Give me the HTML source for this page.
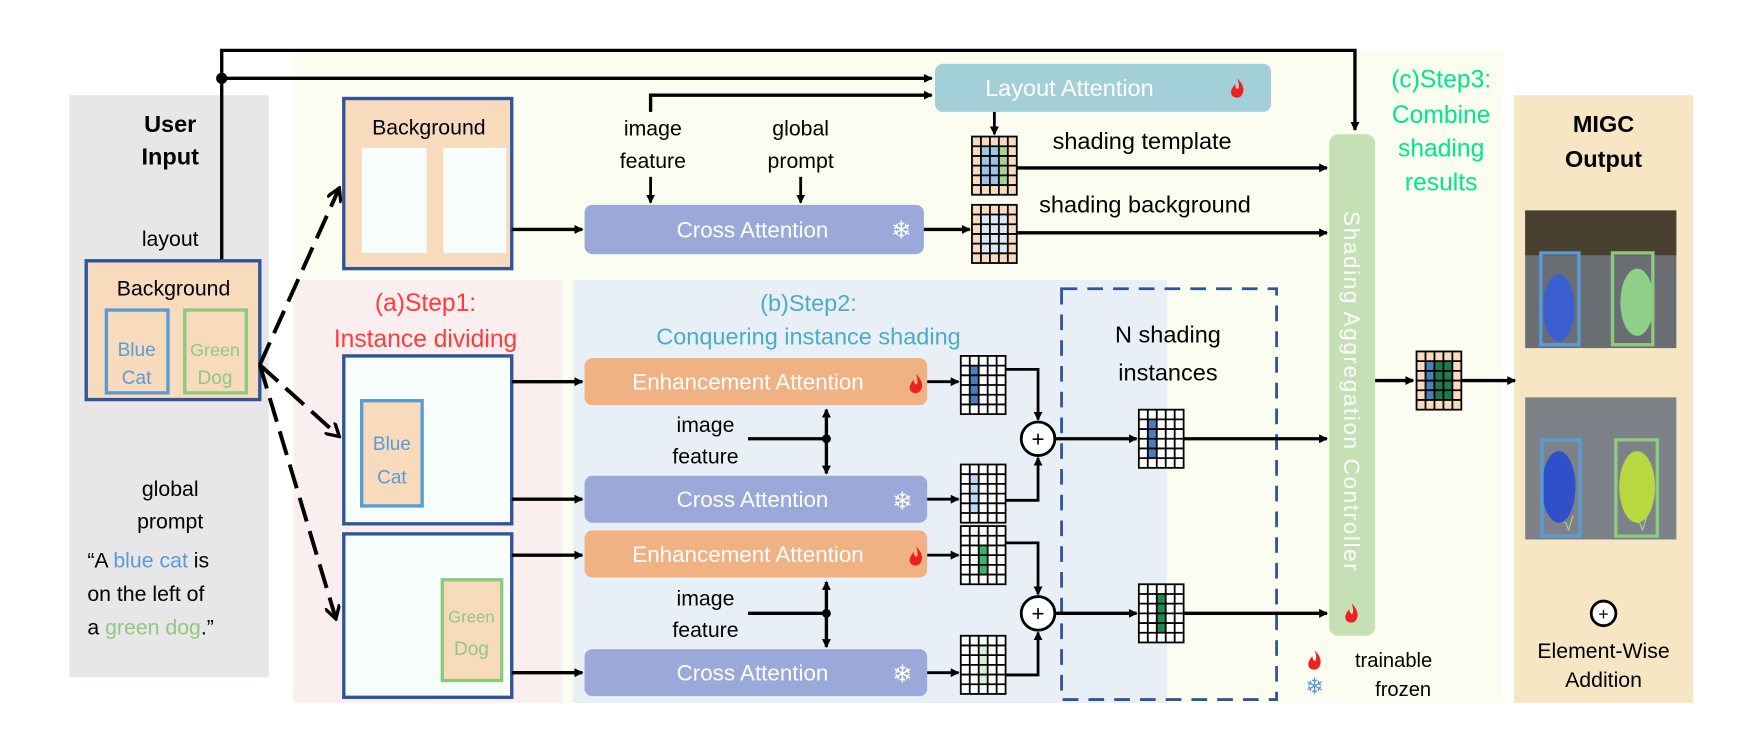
<!DOCTYPE html>
<html><head><meta charset="utf-8"><style>
html,body{margin:0;padding:0;background:#fff;}
svg{display:block;}
text{font-family:"Liberation Sans","DejaVu Sans",sans-serif;}
</style></head><body>
<svg width="1748" height="732" viewBox="0 0 1561 654" preserveAspectRatio="none" xmlns="http://www.w3.org/2000/svg">
<defs>
<marker id="ar" markerWidth="8" markerHeight="8" refX="7" refY="4" orient="auto" markerUnits="userSpaceOnUse"><path d="M0,0 L8,4 L0,8 z" fill="#000"/></marker>
<marker id="ar2" markerWidth="14" markerHeight="14" refX="12" refY="7" orient="auto" markerUnits="userSpaceOnUse"><path d="M0,0 L12,7 L0,14" fill="none" stroke="#000" stroke-width="3"/></marker>
<g id="gl" fill="none" stroke="#000" stroke-width="1.6">
<rect x="0" y="0" width="40" height="52"/>
<path d="M8,0V52M16,0V52M24,0V52M32,0V52M0,8.67H40M0,17.33H40M0,26H40M0,34.67H40M0,43.33H40"/>
</g>
<g id="flame"><path d="M0,-9 C5,-4 7,1 4,6 C2,9 -3,9 -5,6 C-7,2 -4,-1 -2,-4 C-2,0 0,1 1,0 C2,-3 1,-6 0,-9z" fill="#f02020"/></g>
</defs>

<rect x="262" y="45" width="1080" height="583" fill="#fafdf0"/>
<rect x="62" y="85" width="178" height="520" fill="#e8e6e8"/>
<rect x="262" y="250" width="240" height="378" fill="#fbeeee"/>
<rect x="512" y="250" width="530" height="378" fill="#e9eff6"/>
<rect x="1352" y="85" width="160" height="543" fill="#f7e6c4"/>

<polyline points="198,233 198,45 1210,45 1210,116" fill="none" stroke="#000" stroke-width="3" marker-end="url(#ar)"/>
<line x1="198" y1="70" x2="832" y2="70" stroke="#000" stroke-width="3" marker-end="url(#ar)"/>
<circle cx="198" cy="70" r="5" fill="#000"/>
<polyline points="581,100 581,85 832,85" fill="none" stroke="#000" stroke-width="3" marker-end="url(#ar)"/>

<text x="152" y="118" font-size="21" font-weight="bold" text-anchor="middle">User</text>
<text x="152" y="147" font-size="21" font-weight="bold" text-anchor="middle">Input</text>
<text x="152" y="220" font-size="19" text-anchor="middle">layout</text>
<rect x="77" y="233" width="155" height="124" fill="#f8dbbd" stroke="#2f5597" stroke-width="3"/>
<text x="155" y="264" font-size="19" text-anchor="middle">Background</text>
<rect x="95" y="277" width="55" height="74" fill="#f8dbbd" stroke="#5b9bd5" stroke-width="3"/>
<text x="122" y="318" font-size="17" fill="#5b9bd5" text-anchor="middle">Blue</text>
<text x="122" y="343" font-size="17" fill="#5b9bd5" text-anchor="middle">Cat</text>
<rect x="165" y="277" width="55" height="74" fill="#f8dbbd" stroke="#8fc97e" stroke-width="3"/>
<text x="192" y="318" font-size="16" fill="#8fc97e" text-anchor="middle">Green</text>
<text x="192" y="343" font-size="17" fill="#8fc97e" text-anchor="middle">Dog</text>
<text x="152" y="443" font-size="19" text-anchor="middle">global</text>
<text x="152" y="472" font-size="19" text-anchor="middle">prompt</text>
<text x="78" y="507" font-size="19">“A <tspan fill="#5b9bd5">blue cat</tspan> is</text>
<text x="78" y="537" font-size="19">on the left of</text>
<text x="78" y="567" font-size="19">a <tspan fill="#8fc97e">green dog</tspan>.”</text>

<g stroke="#000" stroke-width="3.5" stroke-dasharray="22,9" fill="none" marker-end="url(#ar2)">
<line x1="232" y1="326" x2="303" y2="168"/>
<line x1="232" y1="326" x2="303" y2="390"/>
<line x1="232" y1="326" x2="300" y2="553"/>
</g>

<text x="380" y="278" font-size="22" fill="#ff3b3b" text-anchor="middle">(a)Step1:</text>
<text x="380" y="310" font-size="22" fill="#ff3b3b" text-anchor="middle">Instance dividing</text>
<text x="722" y="278" font-size="21" fill="#4bacc6" text-anchor="middle">(b)Step2:</text>
<text x="722" y="308" font-size="21" fill="#4bacc6" text-anchor="middle">Conquering instance shading</text>
<g font-size="22" fill="#00e68c" text-anchor="middle">
<text x="1287" y="78">(c)Step3:</text>
<text x="1287" y="110">Combine</text>
<text x="1287" y="140">shading</text>
<text x="1287" y="170">results</text>
</g>

<rect x="307" y="88" width="150" height="152" fill="#f8dbbd" stroke="#2f5597" stroke-width="3"/>
<text x="383" y="120" font-size="19" text-anchor="middle">Background</text>
<rect x="323" y="132" width="58" height="94" fill="#f7fdfd"/>
<rect x="396" y="132" width="56" height="94" fill="#f7fdfd"/>
<line x1="457" y1="205" x2="520" y2="205" stroke="#000" stroke-width="3" marker-end="url(#ar)"/>
<text x="583" y="121" font-size="19" text-anchor="middle">image</text>
<text x="583" y="150" font-size="19" text-anchor="middle">feature</text>
<text x="715" y="121" font-size="19" text-anchor="middle">global</text>
<text x="715" y="150" font-size="19" text-anchor="middle">prompt</text>
<line x1="581" y1="158" x2="581" y2="181" stroke="#000" stroke-width="2.5" marker-end="url(#ar)"/>
<line x1="715" y1="158" x2="715" y2="181" stroke="#000" stroke-width="2.5" marker-end="url(#ar)"/>
<rect x="522" y="183" width="303" height="44" rx="7" fill="#9aa9d9"/>
<text x="672" y="212" font-size="20" fill="#fff" text-anchor="middle">Cross Attention</text>
<text x="805" y="213" font-size="22" fill="#fff" text-anchor="middle">❄</text>

<rect x="835" y="57" width="300" height="43" rx="7" fill="#a3cfd9"/>
<text x="955" y="86" font-size="21" fill="#fff" text-anchor="middle">Layout Attention</text>
<use href="#flame" x="1105" y="79"/>
<line x1="888" y1="100" x2="888" y2="120" stroke="#000" stroke-width="2.5" marker-end="url(#ar)"/>
<line x1="825" y1="205" x2="866" y2="205" stroke="#000" stroke-width="3" marker-end="url(#ar)"/>

<g transform="translate(868,122)">
<rect width="40" height="52" fill="#f8dbbd"/>
<rect x="8" y="8.67" width="16" height="34.67" fill="#9dc3e6"/>
<rect x="24" y="8.67" width="8" height="34.67" fill="#a9d18e"/>
<use href="#gl"/></g>
<g transform="translate(868,183)">
<rect width="40" height="52" fill="#f8dbbd"/>
<rect x="8" y="8.67" width="24" height="34.67" fill="#dae8f5"/>
<use href="#gl"/></g>
<text x="940" y="133" font-size="21">shading template</text>
<text x="928" y="190" font-size="21">shading background</text>
<line x1="908" y1="150" x2="1185" y2="150" stroke="#000" stroke-width="3" marker-end="url(#ar)"/>
<line x1="908" y1="208" x2="1185" y2="208" stroke="#000" stroke-width="3" marker-end="url(#ar)"/>

<rect x="307" y="318" width="150" height="150" fill="#f7fdfd" stroke="#2f5597" stroke-width="3"/>
<rect x="323" y="358" width="54" height="94" fill="#f8dbbd" stroke="#5b9bd5" stroke-width="3"/>
<text x="350" y="402" font-size="17" fill="#5b9bd5" text-anchor="middle">Blue</text>
<text x="350" y="432" font-size="17" fill="#5b9bd5" text-anchor="middle">Cat</text>
<rect x="307" y="477" width="150" height="146" fill="#f7fdfd" stroke="#2f5597" stroke-width="3"/>
<rect x="395" y="518" width="53" height="90" fill="#f8dbbd" stroke="#8fc97e" stroke-width="3"/>
<text x="421" y="556" font-size="15" fill="#8fc97e" text-anchor="middle">Green</text>
<text x="421" y="585" font-size="17" fill="#8fc97e" text-anchor="middle">Dog</text>
<g stroke="#000" stroke-width="3" marker-end="url(#ar)">
<line x1="457" y1="341" x2="520" y2="341"/>
<line x1="457" y1="446" x2="520" y2="446"/>
<line x1="457" y1="496" x2="520" y2="496"/>
<line x1="457" y1="601" x2="520" y2="601"/>
</g>

<rect x="522" y="320" width="306" height="42" rx="7" fill="#f0b183"/>
<text x="668" y="348" font-size="20" fill="#fff" text-anchor="middle">Enhancement Attention</text>
<use href="#flame" x="818" y="343"/>
<rect x="522" y="425" width="306" height="42" rx="7" fill="#9aa9d9"/>
<text x="672" y="453" font-size="20" fill="#fff" text-anchor="middle">Cross Attention</text>
<text x="806" y="455" font-size="22" fill="#fff" text-anchor="middle">❄</text>
<rect x="522" y="474" width="306" height="42" rx="7" fill="#f0b183"/>
<text x="668" y="502" font-size="20" fill="#fff" text-anchor="middle">Enhancement Attention</text>
<use href="#flame" x="818" y="497"/>
<rect x="522" y="580" width="306" height="42" rx="7" fill="#9aa9d9"/>
<text x="672" y="608" font-size="20" fill="#fff" text-anchor="middle">Cross Attention</text>
<text x="806" y="610" font-size="22" fill="#fff" text-anchor="middle">❄</text>

<text x="630" y="386" font-size="19" text-anchor="middle">image</text>
<text x="630" y="414" font-size="19" text-anchor="middle">feature</text>
<text x="630" y="541" font-size="19" text-anchor="middle">image</text>
<text x="630" y="569" font-size="19" text-anchor="middle">feature</text>
<g stroke="#000" stroke-width="3" fill="none">
<line x1="668" y1="392" x2="738" y2="392"/>
<line x1="738" y1="392" x2="738" y2="366" marker-end="url(#ar)"/>
<line x1="738" y1="392" x2="738" y2="423" marker-end="url(#ar)"/>
<line x1="668" y1="548" x2="738" y2="548"/>
<line x1="738" y1="548" x2="738" y2="520" marker-end="url(#ar)"/>
<line x1="738" y1="548" x2="738" y2="578" marker-end="url(#ar)"/>
</g>
<circle cx="738" cy="392" r="4" fill="#000"/>
<circle cx="738" cy="548" r="4" fill="#000"/>

<g stroke="#000" stroke-width="2.5" marker-end="url(#ar)">
<line x1="828" y1="341" x2="856" y2="341"/>
<line x1="828" y1="446" x2="856" y2="446"/>
<line x1="828" y1="496" x2="856" y2="496"/>
<line x1="828" y1="601" x2="856" y2="601"/>
</g>
<g transform="translate(858,318)"><rect width="40" height="52" fill="#fff"/><rect x="8" y="8.67" width="8" height="34.67" fill="#4a7ebb"/><use href="#gl"/></g>
<g transform="translate(858,415)"><rect width="40" height="52" fill="#fff"/><rect x="8" y="8.67" width="8" height="34.67" fill="#bdd7ee"/><use href="#gl"/></g>
<g transform="translate(858,470)"><rect width="40" height="52" fill="#fff"/><rect x="16" y="17.33" width="8" height="26" fill="#3cb371"/><use href="#gl"/></g>
<g transform="translate(858,568)"><rect width="40" height="52" fill="#fff"/><rect x="16" y="8.67" width="8" height="34.67" fill="#d8f0d8"/><use href="#gl"/></g>
<g stroke="#000" stroke-width="2.5" fill="none">
<polyline points="898,330 927,330 927,375" marker-end="url(#ar)"/>
<polyline points="898,447 927,447 927,409" marker-end="url(#ar)"/>
<polyline points="898,485 927,485 927,531" marker-end="url(#ar)"/>
<polyline points="898,603 927,603 927,565" marker-end="url(#ar)"/>
</g>
<g stroke="#000" stroke-width="2.5" fill="#fff">
<circle cx="927" cy="392" r="15"/><circle cx="927" cy="548" r="15"/>
</g>
<text x="927" y="399" font-size="20" text-anchor="middle">+</text>
<text x="927" y="555" font-size="20" text-anchor="middle">+</text>

<rect x="948" y="258" width="192" height="367" fill="none" stroke="#2f5597" stroke-width="2.5" stroke-dasharray="14,9"/>
<text x="1043" y="306" font-size="21" text-anchor="middle">N shading</text>
<text x="1043" y="340" font-size="21" text-anchor="middle">instances</text>
<g stroke="#000" stroke-width="3" marker-end="url(#ar)">
<line x1="942" y1="392" x2="1015" y2="392"/>
<line x1="1057" y1="392" x2="1185" y2="392"/>
<line x1="942" y1="548" x2="1015" y2="548"/>
<line x1="1057" y1="548" x2="1185" y2="548"/>
</g>
<g transform="translate(1017,366)"><rect width="40" height="52" fill="#fff"/><rect x="8" y="8.67" width="8" height="34.67" fill="#4a7ebb"/><use href="#gl"/></g>
<g transform="translate(1017,522)"><rect width="40" height="52" fill="#fff"/><rect x="16" y="8.67" width="8" height="34.67" fill="#1e8a50"/><use href="#gl"/></g>

<rect x="1187" y="120" width="41" height="448" rx="8" fill="#c5e0b4"/>
<text transform="translate(1200,350) rotate(90)" font-size="20" fill="#fff" text-anchor="middle" letter-spacing="1.5">Shading Aggregation Controller</text>
<use href="#flame" x="1207" y="548"/>

<line x1="1228" y1="340" x2="1262" y2="340" stroke="#000" stroke-width="3" marker-end="url(#ar)"/>
<g transform="translate(1265,314)"><rect width="40" height="52" fill="#f8dbbd"/><rect x="8" y="8.67" width="8" height="34.67" fill="#4a7ebb"/><rect x="16" y="8.67" width="16" height="34.67" fill="#1e7a4a"/><use href="#gl"/></g>
<line x1="1305" y1="340" x2="1353" y2="340" stroke="#000" stroke-width="3" marker-end="url(#ar)"/>

<text x="1432" y="118" font-size="21" font-weight="bold" text-anchor="middle">MIGC</text>
<text x="1432" y="149" font-size="21" font-weight="bold" text-anchor="middle">Output</text>
<rect x="1362" y="188" width="135" height="123" fill="#6a6e72"/>
<rect x="1362" y="188" width="135" height="40" fill="#4a4030"/>
<ellipse cx="1392" cy="275" rx="14" ry="30" fill="#3b5fd0"/>
<ellipse cx="1462" cy="270" rx="15" ry="30" fill="#8ed08a"/>
<rect x="1376" y="226" width="34" height="82" fill="none" stroke="#5b9bd5" stroke-width="3"/>
<rect x="1440" y="226" width="36" height="82" fill="none" stroke="#8fc97e" stroke-width="3"/>
<rect x="1362" y="355" width="135" height="127" fill="#7d8289"/>
<ellipse cx="1392" cy="435" rx="15" ry="32" fill="#2f50c8"/>
<ellipse cx="1462" cy="435" rx="16" ry="32" fill="#b8d840"/>
<rect x="1377" y="393" width="34" height="86" fill="none" stroke="#5b9bd5" stroke-width="3"/>
<rect x="1443" y="393" width="37" height="86" fill="none" stroke="#8fc97e" stroke-width="3"/>
<text x="1396" y="474" font-size="17" fill="#a9d18e">√</text>
<text x="1462" y="474" font-size="17" fill="#a9d18e">√</text>

<circle cx="1432" cy="548" r="11" fill="#fff" stroke="#000" stroke-width="2.5"/>
<text x="1432" y="554" font-size="16" text-anchor="middle">+</text>
<text x="1432" y="588" font-size="19" text-anchor="middle">Element-Wise</text>
<text x="1432" y="614" font-size="19" text-anchor="middle">Addition</text>

<use href="#flame" x="1174" y="590"/>
<text x="1174" y="620" font-size="20" fill="#5b9bd5" text-anchor="middle">❄</text>
<text x="1210" y="596" font-size="18">trainable</text>
<text x="1228" y="622" font-size="18">frozen</text>
</svg>
</body></html>
